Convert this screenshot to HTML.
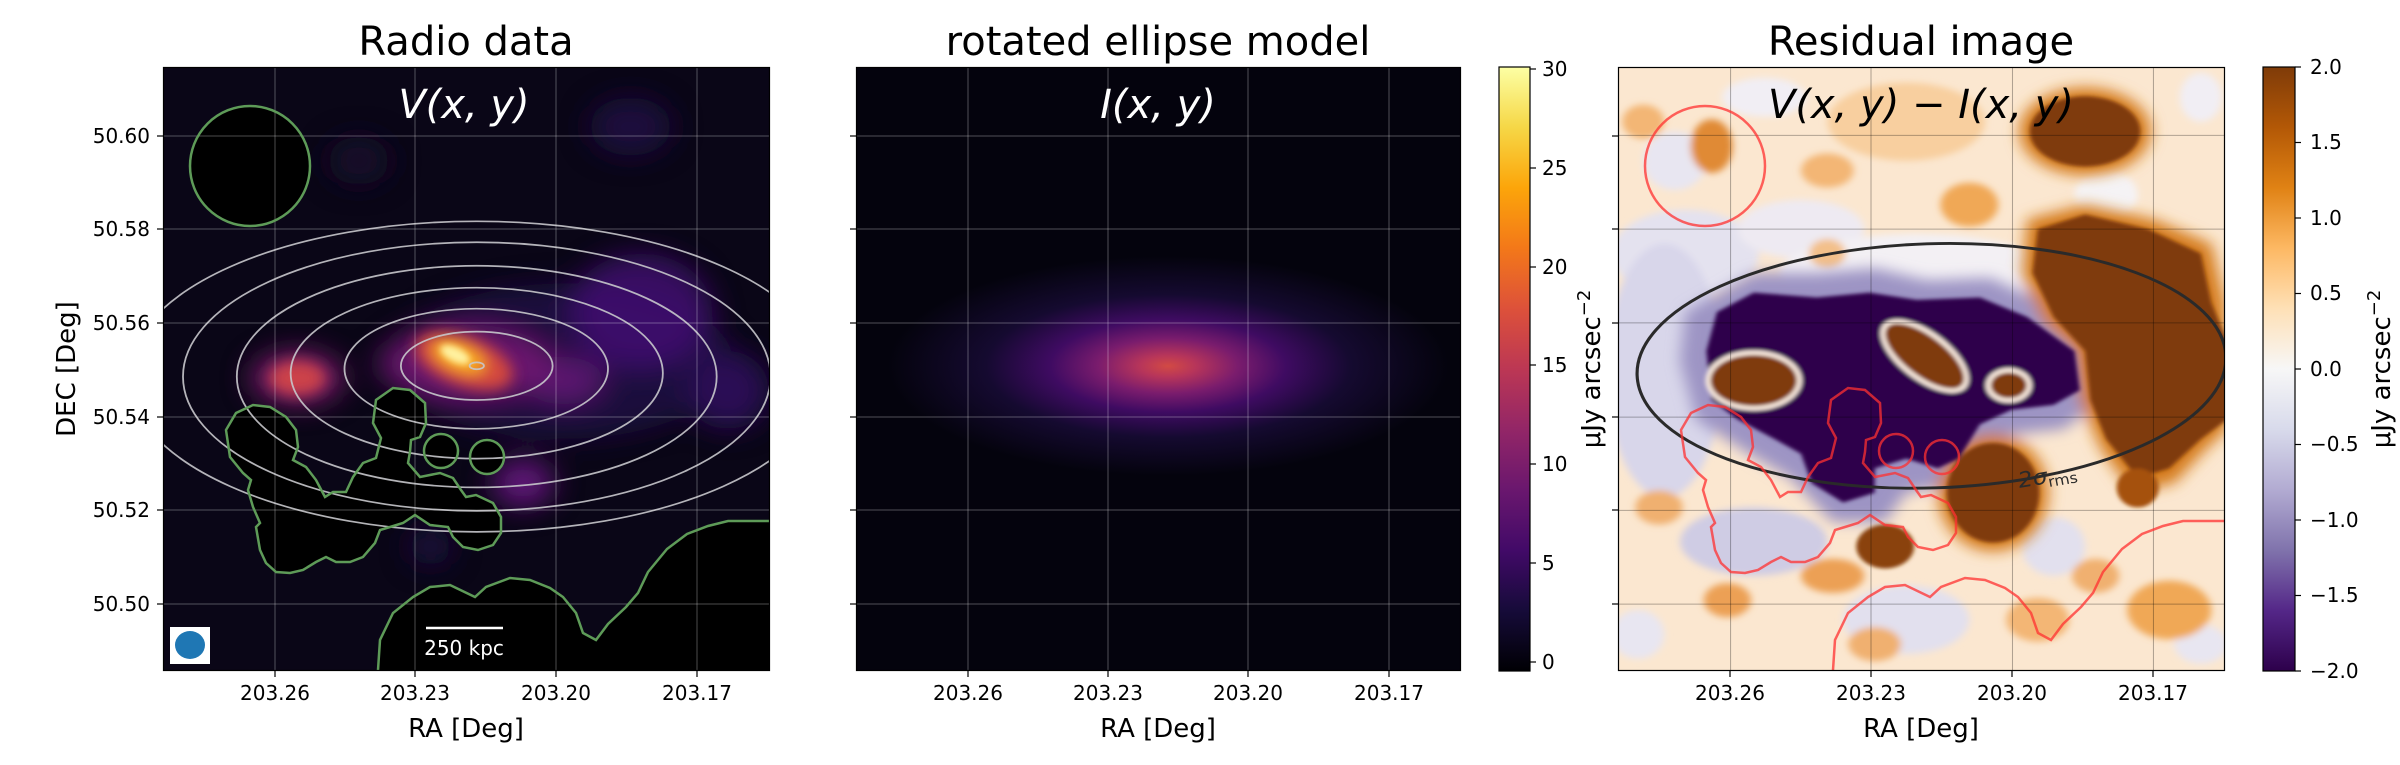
<!DOCTYPE html>
<html><head><meta charset="utf-8"><style>
html,body{margin:0;padding:0;background:#fff;}
svg{display:block;font-family:"DejaVu Sans","Liberation Sans",sans-serif;}
</style></head><body>
<svg width="2400" height="765" viewBox="0 0 2400 765" xmlns="http://www.w3.org/2000/svg">
<defs>
<linearGradient id="inf" x1="0" y1="1" x2="0" y2="0">
<stop offset="0" stop-color="#000004"/><stop offset=".1" stop-color="#160b39"/><stop offset=".2" stop-color="#420a68"/><stop offset=".3" stop-color="#6a176e"/><stop offset=".4" stop-color="#932667"/><stop offset=".5" stop-color="#bc3754"/><stop offset=".6" stop-color="#dd513a"/><stop offset=".7" stop-color="#f37819"/><stop offset=".8" stop-color="#fca50a"/><stop offset=".9" stop-color="#f6d746"/><stop offset="1" stop-color="#fcffa4"/>
</linearGradient>
<linearGradient id="puor" x1="0" y1="1" x2="0" y2="0">
<stop offset="0" stop-color="#2d004b"/><stop offset=".1" stop-color="#542788"/><stop offset=".2" stop-color="#8073ac"/><stop offset=".3" stop-color="#b2abd2"/><stop offset=".4" stop-color="#d8daeb"/><stop offset=".5" stop-color="#f7f7f7"/><stop offset=".6" stop-color="#fee0b6"/><stop offset=".7" stop-color="#fdb863"/><stop offset=".8" stop-color="#e08214"/><stop offset=".9" stop-color="#b35806"/><stop offset="1" stop-color="#7f3b08"/>
</linearGradient>
<radialGradient id="model" cx=".5" cy=".5" r=".5">
<stop offset="0" stop-color="#d24a44"/><stop offset=".1" stop-color="#b7355a"/><stop offset=".25" stop-color="#7a1c6d"/><stop offset=".42" stop-color="#3f0b62"/><stop offset=".65" stop-color="#150a30"/><stop offset="1" stop-color="#04030d"/>
</radialGradient>
<filter id="b1" x="-50%" y="-50%" width="200%" height="200%"><feGaussianBlur stdDeviation="28"/></filter>
<filter id="b2" x="-50%" y="-50%" width="200%" height="200%"><feGaussianBlur stdDeviation="14"/></filter>
<filter id="b3" x="-50%" y="-50%" width="200%" height="200%"><feGaussianBlur stdDeviation="7"/></filter>
<filter id="b4" x="-50%" y="-50%" width="200%" height="200%"><feGaussianBlur stdDeviation="4"/></filter>
<g id="contours">
<path d="M63,363 L73,346 90,338 107,340 123,350 133,363 135,380 130,393 143,400 153,413 162,430 170,425 183,425 190,410 200,396 213,391 218,371 210,356 213,333 230,321 247,323 262,336 263,356 257,370 248,373 247,385 245,396 257,410 277,406 290,411 298,423 303,430 313,428 330,436 338,450 338,466 330,478 315,483 300,480 290,470 285,460 267,458 252,448 240,456 227,460 217,463 212,476 200,490 187,495 173,495 163,490 153,495 140,503 127,506 113,505 103,496 97,483 93,460 97,456 90,440 85,423 88,413 80,406 67,390 Z"/>
<circle cx="278" cy="384" r="17"/>
<circle cx="324" cy="390" r="17"/>
<ellipse cx="87" cy="99" rx="60" ry="60"/>
<path d="M215,610 L215,603 217,573 230,546 250,530 267,520 287,518 312,530 323,520 347,511 367,513 387,521 400,530 413,546 420,566 433,573 445,557 463,540 475,526 485,505 504,482 524,467 545,459 565,454 612,454 612,612 215,612 Z"/>
</g>
</defs>

<!-- ================= PANEL 1 ================= -->
<text x="466" y="55" font-size="40" text-anchor="middle">Radio data</text>
<svg x="163" y="67" width="607" height="604" viewBox="318 138 1184 1237" preserveAspectRatio="none">
<rect x="318" y="138" width="1184" height="1237" fill="#0a0617"/>
<g filter="url(#b1)">
<ellipse cx="1230" cy="260" rx="80" ry="60" fill="#1e0c3c"/>
<ellipse cx="700" cy="330" rx="60" ry="50" fill="#140a2c"/>
<ellipse cx="1100" cy="740" rx="330" ry="160" fill="#2a0c55" opacity=".6"/>
<ellipse cx="1250" cy="640" rx="140" ry="120" fill="#45107a" opacity=".75"/>
<ellipse cx="1420" cy="800" rx="80" ry="80" fill="#2a0c55"/>
<ellipse cx="1020" cy="990" rx="60" ry="50" fill="#601478"/>
<ellipse cx="1100" cy="780" rx="80" ry="50" fill="#5a1270"/>
<ellipse cx="580" cy="775" rx="90" ry="55" fill="#7a1c6d"/>
<ellipse cx="840" cy="1120" rx="40" ry="40" fill="#1e0c3c"/>
<ellipse cx="910" cy="745" rx="170" ry="80" fill="#6a176e"/>
</g>
<g filter="url(#b2)">
<ellipse cx="580" cy="775" rx="55" ry="35" fill="#cc4248"/>
<ellipse cx="905" cy="740" rx="100" ry="50" fill="#d44a3e" transform="rotate(22 905 740)"/>
<ellipse cx="895" cy="732" rx="55" ry="28" fill="#f9a81a" transform="rotate(25 895 732)"/>
</g>
<g filter="url(#b3)">
<ellipse cx="888" cy="727" rx="32" ry="15" fill="#fff2a0" transform="rotate(28 888 727)"/>
</g>
</svg>
<svg x="163" y="67" width="607" height="604" viewBox="0 0 607 604">
<use href="#contours" fill="#000" stroke="none"/>
</svg>
<svg x="163" y="67" width="607" height="604" viewBox="318 138 1184 1237" preserveAspectRatio="none">
<g fill="none" stroke="#c8c8cc" stroke-width="3.5" opacity=".9">
<ellipse cx="930" cy="750" rx="14" ry="7"/>
<ellipse cx="930" cy="750" rx="148" ry="70"/>
<ellipse cx="929" cy="756" rx="257" ry="123"/>
<ellipse cx="930" cy="765" rx="363" ry="175"/>
<ellipse cx="930" cy="772" rx="468" ry="227"/>
<ellipse cx="930" cy="772" rx="573" ry="275"/>
<ellipse cx="930" cy="772" rx="680" ry="318"/>
</g>
</svg>
<g stroke="#ffffff" stroke-opacity=".3" stroke-width="1">
<line x1="275" y1="67" x2="275" y2="671"/><line x1="415" y1="67" x2="415" y2="671"/><line x1="556" y1="67" x2="556" y2="671"/><line x1="697" y1="67" x2="697" y2="671"/>
<line x1="163" y1="136" x2="770" y2="136"/><line x1="163" y1="229" x2="770" y2="229"/><line x1="163" y1="323" x2="770" y2="323"/><line x1="163" y1="417" x2="770" y2="417"/><line x1="163" y1="510" x2="770" y2="510"/><line x1="163" y1="604" x2="770" y2="604"/>
</g>
<svg x="163" y="67" width="607" height="604" viewBox="0 0 607 604">
<use href="#contours" fill="none" stroke="#5e9b58" stroke-width="2.5"/>
</svg>
<text x="464" y="118" font-size="40" font-style="italic" fill="#fff" text-anchor="middle">V(x, y)</text>
<line x1="426" y1="628" x2="503" y2="628" stroke="#fff" stroke-width="2.5"/>
<text x="464" y="655" font-size="20" fill="#fff" text-anchor="middle">250 kpc</text>
<rect x="170" y="627" width="40" height="37" fill="#fff"/>
<ellipse cx="190" cy="645" rx="15" ry="14" fill="#1f77b4"/>
<rect x="163.5" y="67.5" width="606" height="603" fill="none" stroke="#000" stroke-width="1.2"/>
<g stroke="#000" stroke-width="1.2">
<line x1="275" y1="671" x2="275" y2="677"/><line x1="415" y1="671" x2="415" y2="677"/><line x1="556" y1="671" x2="556" y2="677"/><line x1="697" y1="671" x2="697" y2="677"/>
<line x1="157" y1="136" x2="163" y2="136"/><line x1="157" y1="229" x2="163" y2="229"/><line x1="157" y1="323" x2="163" y2="323"/><line x1="157" y1="417" x2="163" y2="417"/><line x1="157" y1="510" x2="163" y2="510"/><line x1="157" y1="604" x2="163" y2="604"/>
</g>
<g font-size="20" text-anchor="middle">
<text x="275" y="700">203.26</text><text x="415" y="700">203.23</text><text x="556" y="700">203.20</text><text x="697" y="700">203.17</text>
</g>
<g font-size="20" text-anchor="end">
<text x="150" y="143">50.60</text><text x="150" y="236">50.58</text><text x="150" y="330">50.56</text><text x="150" y="424">50.54</text><text x="150" y="517">50.52</text><text x="150" y="611">50.50</text>
</g>
<text x="466" y="737" font-size="26" text-anchor="middle">RA [Deg]</text>
<text transform="translate(75,369) rotate(-90)" font-size="26" text-anchor="middle">DEC [Deg]</text>

<!-- ================= PANEL 2 ================= -->
<text x="1158" y="55" font-size="40" text-anchor="middle">rotated ellipse model</text>
<svg x="856" y="67" width="605" height="604" viewBox="856 67 605 604">
<rect x="856" y="67" width="605" height="604" fill="#04030d"/>
<ellipse cx="1168" cy="366" rx="280" ry="110" fill="url(#model)"/>
<g stroke="#ffffff" stroke-opacity=".3" stroke-width="1">
<line x1="968" y1="67" x2="968" y2="671"/><line x1="1108" y1="67" x2="1108" y2="671"/><line x1="1248" y1="67" x2="1248" y2="671"/><line x1="1389" y1="67" x2="1389" y2="671"/>
<line x1="856" y1="136" x2="1461" y2="136"/><line x1="856" y1="229" x2="1461" y2="229"/><line x1="856" y1="323" x2="1461" y2="323"/><line x1="856" y1="417" x2="1461" y2="417"/><line x1="856" y1="510" x2="1461" y2="510"/><line x1="856" y1="604" x2="1461" y2="604"/>
</g>
</svg>
<text x="1158" y="118" font-size="40" font-style="italic" fill="#fff" text-anchor="middle">I(x, y)</text>
<rect x="856.5" y="67.5" width="604" height="603" fill="none" stroke="#000" stroke-width="1.2"/>
<g stroke="#000" stroke-width="1.2">
<line x1="968" y1="671" x2="968" y2="677"/><line x1="1108" y1="671" x2="1108" y2="677"/><line x1="1248" y1="671" x2="1248" y2="677"/><line x1="1389" y1="671" x2="1389" y2="677"/>
<line x1="850" y1="136" x2="856" y2="136"/><line x1="850" y1="229" x2="856" y2="229"/><line x1="850" y1="323" x2="856" y2="323"/><line x1="850" y1="417" x2="856" y2="417"/><line x1="850" y1="510" x2="856" y2="510"/><line x1="850" y1="604" x2="856" y2="604"/>
</g>
<g font-size="20" text-anchor="middle">
<text x="968" y="700">203.26</text><text x="1108" y="700">203.23</text><text x="1248" y="700">203.20</text><text x="1389" y="700">203.17</text>
</g>
<text x="1158" y="737" font-size="26" text-anchor="middle">RA [Deg]</text>
<!-- colorbar 1 -->
<rect x="1499" y="67" width="31" height="604" fill="url(#inf)" stroke="#000" stroke-width="1.2"/>
<g stroke="#000" stroke-width="1.2">
<line x1="1530" y1="662" x2="1536" y2="662"/><line x1="1530" y1="563" x2="1536" y2="563"/><line x1="1530" y1="464" x2="1536" y2="464"/><line x1="1530" y1="365" x2="1536" y2="365"/><line x1="1530" y1="267" x2="1536" y2="267"/><line x1="1530" y1="168" x2="1536" y2="168"/><line x1="1530" y1="69" x2="1536" y2="69"/>
</g>
<g font-size="20">
<text x="1542" y="669">0</text><text x="1542" y="570">5</text><text x="1542" y="471">10</text><text x="1542" y="372">15</text><text x="1542" y="274">20</text><text x="1542" y="175">25</text><text x="1542" y="76">30</text>
</g>
<text transform="translate(1600,369) rotate(-90)" font-size="26" text-anchor="middle">μJy arcsec<tspan dy="-10" font-size="18">−2</tspan></text>

<!-- ================= PANEL 3 ================= -->
<text x="1921" y="55" font-size="40" text-anchor="middle">Residual image</text>
<svg x="1618" y="67" width="607" height="604" viewBox="72 138 1154 1237" preserveAspectRatio="none">
<rect x="72" y="138" width="1154" height="1237" fill="#fbe7d0"/>
<g filter="url(#b3)">
<ellipse cx="200" cy="520" rx="140" ry="90" fill="#e4e2ef"/>
<ellipse cx="160" cy="760" rx="110" ry="260" fill="#d8d6ea"/>
<ellipse cx="330" cy="1110" rx="140" ry="70" fill="#cfcce4"/>
<ellipse cx="180" cy="330" rx="60" ry="60" fill="#e8e6f1"/>
<ellipse cx="620" cy="1270" rx="120" ry="70" fill="#e2e0ee"/>
<ellipse cx="900" cy="1120" rx="60" ry="60" fill="#e2e0ee"/>
<ellipse cx="1000" cy="400" rx="60" ry="50" fill="#f5f3f5"/>
<ellipse cx="420" cy="470" rx="120" ry="60" fill="#eeeaf2"/>
<ellipse cx="640" cy="560" rx="260" ry="80" fill="#f3f0f4"/>
<ellipse cx="110" cy="1300" rx="50" ry="50" fill="#e8e6f1"/>
<ellipse cx="1180" cy="1320" rx="50" ry="40" fill="#e8e6f1"/>
<ellipse cx="350" cy="200" rx="80" ry="40" fill="#f1eef4"/>
<ellipse cx="1180" cy="200" rx="40" ry="50" fill="#f1eef4"/>
<ellipse cx="620" cy="250" rx="150" ry="80" fill="#f8cf9f"/>
<ellipse cx="740" cy="420" rx="55" ry="45" fill="#f0a857"/>
<ellipse cx="470" cy="350" rx="50" ry="35" fill="#f3b674"/>
<ellipse cx="250" cy="300" rx="40" ry="55" fill="#e08a35"/>
<ellipse cx="280" cy="1230" rx="45" ry="35" fill="#eca055"/>
<ellipse cx="150" cy="1040" rx="45" ry="35" fill="#f0b070"/>
<ellipse cx="1120" cy="1250" rx="80" ry="60" fill="#f0a857"/>
<ellipse cx="870" cy="1270" rx="60" ry="45" fill="#f3b674"/>
<ellipse cx="480" cy="1180" rx="60" ry="35" fill="#eca055"/>
<ellipse cx="560" cy="1320" rx="50" ry="35" fill="#f0b070"/>
<ellipse cx="980" cy="1180" rx="45" ry="35" fill="#f0b070"/>
<ellipse cx="120" cy="250" rx="40" ry="35" fill="#f3b674"/>
<ellipse cx="470" cy="520" rx="35" ry="30" fill="#f3c08a"/>
</g>
<g filter="url(#b2)">
<path d="M200,640 L330,560 450,560 560,550 660,575 780,570 880,620 980,720 990,820 920,880 820,890 770,930 730,990 620,1010 580,1070 480,1070 400,980 320,930 220,860 190,740 Z" fill="#9d94c4"/>
<path d="M850,450 L960,420 1090,450 1200,500 1226,620 1230,880 1190,920 1130,990 1050,1010 990,920 950,820 940,720 880,660 840,560 Z" fill="#d57b1d"/>
<ellipse cx="960" cy="270" rx="125" ry="90" fill="#d57b1d"/>
<ellipse cx="785" cy="1010" rx="105" ry="120" fill="#d57b1d"/>
</g>
<g filter="url(#b4)">
<path d="M260,640 L330,600 450,610 550,600 640,615 760,610 850,650 940,720 950,800 900,830 820,840 760,870 720,940 680,960 620,940 560,960 560,1010 500,1030 440,990 420,930 370,900 300,860 250,820 240,720 Z" fill="#2d004b"/>
<path d="M870,470 L960,440 1080,470 1180,520 1200,620 1230,700 1230,860 1180,900 1120,960 1060,980 1000,900 970,820 960,720 900,650 860,560 Z" fill="#7f3b08"/>
<ellipse cx="960" cy="270" rx="105" ry="72" fill="#7f3b08"/>
<ellipse cx="1060" cy="1000" rx="40" ry="40" fill="#a5510a"/>
<ellipse cx="785" cy="1010" rx="88" ry="102" fill="#7f3b08"/>
<ellipse cx="580" cy="1120" rx="55" ry="45" fill="#8a420a"/>
<g fill="#f5e6da">
<ellipse cx="330" cy="780" rx="92" ry="62"/>
<ellipse cx="655" cy="730" rx="102" ry="49" transform="rotate(40 655 730)"/>
<ellipse cx="815" cy="790" rx="44" ry="36"/>
</g>
<g fill="#7f3b08">
<ellipse cx="330" cy="780" rx="82" ry="52"/>
<ellipse cx="655" cy="730" rx="92" ry="39" transform="rotate(40 655 730)"/>
<ellipse cx="815" cy="790" rx="34" ry="26"/>
</g>
</g>
<g stroke="#000000" stroke-opacity=".3" stroke-width="2">
<line x1="286" y1="138" x2="286" y2="1375"/><line x1="553" y1="138" x2="553" y2="1375"/><line x1="822" y1="138" x2="822" y2="1375"/><line x1="1090" y1="138" x2="1090" y2="1375"/>
<line x1="72" y1="278" x2="1226" y2="278"/><line x1="72" y1="470" x2="1226" y2="470"/><line x1="72" y1="662" x2="1226" y2="662"/><line x1="72" y1="855" x2="1226" y2="855"/><line x1="72" y1="1046" x2="1226" y2="1046"/><line x1="72" y1="1238" x2="1226" y2="1238"/>
</g>
<ellipse cx="668" cy="750" rx="560" ry="250" fill="none" stroke="#2a2a2a" stroke-width="6" transform="rotate(-2 668 750)"/>
<text x="830" y="990" font-size="44" font-style="italic" fill="#2a2a2a" transform="rotate(-10 890 965)">2σ<tspan font-size="30" font-style="normal" dy="8">rms</tspan></text>
</svg>
<svg x="1618" y="67" width="607" height="604" viewBox="0 0 607 604">
<use href="#contours" fill="none" stroke="#ff3030" stroke-opacity=".75" stroke-width="2.5"/>
</svg>
<text x="1921" y="118" font-size="40" font-style="italic" fill="#000" text-anchor="middle">V(x, y) − I(x, y)</text>
<rect x="1618.5" y="67.5" width="606" height="603" fill="none" stroke="#000" stroke-width="1.2"/>
<g stroke="#000" stroke-width="1.2">
<line x1="1730" y1="671" x2="1730" y2="677"/><line x1="1871" y1="671" x2="1871" y2="677"/><line x1="2012" y1="671" x2="2012" y2="677"/><line x1="2153" y1="671" x2="2153" y2="677"/>
<line x1="1612" y1="136" x2="1618" y2="136"/><line x1="1612" y1="229" x2="1618" y2="229"/><line x1="1612" y1="323" x2="1618" y2="323"/><line x1="1612" y1="417" x2="1618" y2="417"/><line x1="1612" y1="510" x2="1618" y2="510"/><line x1="1612" y1="604" x2="1618" y2="604"/>
</g>
<g font-size="20" text-anchor="middle">
<text x="1730" y="700">203.26</text><text x="1871" y="700">203.23</text><text x="2012" y="700">203.20</text><text x="2153" y="700">203.17</text>
</g>
<text x="1921" y="737" font-size="26" text-anchor="middle">RA [Deg]</text>
<!-- colorbar 2 -->
<rect x="2263" y="67" width="32" height="604" fill="url(#puor)" stroke="#000" stroke-width="1.2"/>
<g stroke="#000" stroke-width="1.2">
<line x1="2295" y1="67" x2="2301" y2="67"/><line x1="2295" y1="142.5" x2="2301" y2="142.5"/><line x1="2295" y1="218" x2="2301" y2="218"/><line x1="2295" y1="293.5" x2="2301" y2="293.5"/><line x1="2295" y1="369" x2="2301" y2="369"/><line x1="2295" y1="444.5" x2="2301" y2="444.5"/><line x1="2295" y1="520" x2="2301" y2="520"/><line x1="2295" y1="595.5" x2="2301" y2="595.5"/><line x1="2295" y1="671" x2="2301" y2="671"/>
</g>
<g font-size="20">
<text x="2310" y="74">2.0</text><text x="2310" y="149">1.5</text><text x="2310" y="225">1.0</text><text x="2310" y="300">0.5</text><text x="2310" y="376">0.0</text><text x="2310" y="451">−0.5</text><text x="2310" y="527">−1.0</text><text x="2310" y="602">−1.5</text><text x="2310" y="678">−2.0</text>
</g>
<text transform="translate(2390,369) rotate(-90)" font-size="26" text-anchor="middle">μJy arcsec<tspan dy="-10" font-size="18">−2</tspan></text>
</svg>
</body></html>
